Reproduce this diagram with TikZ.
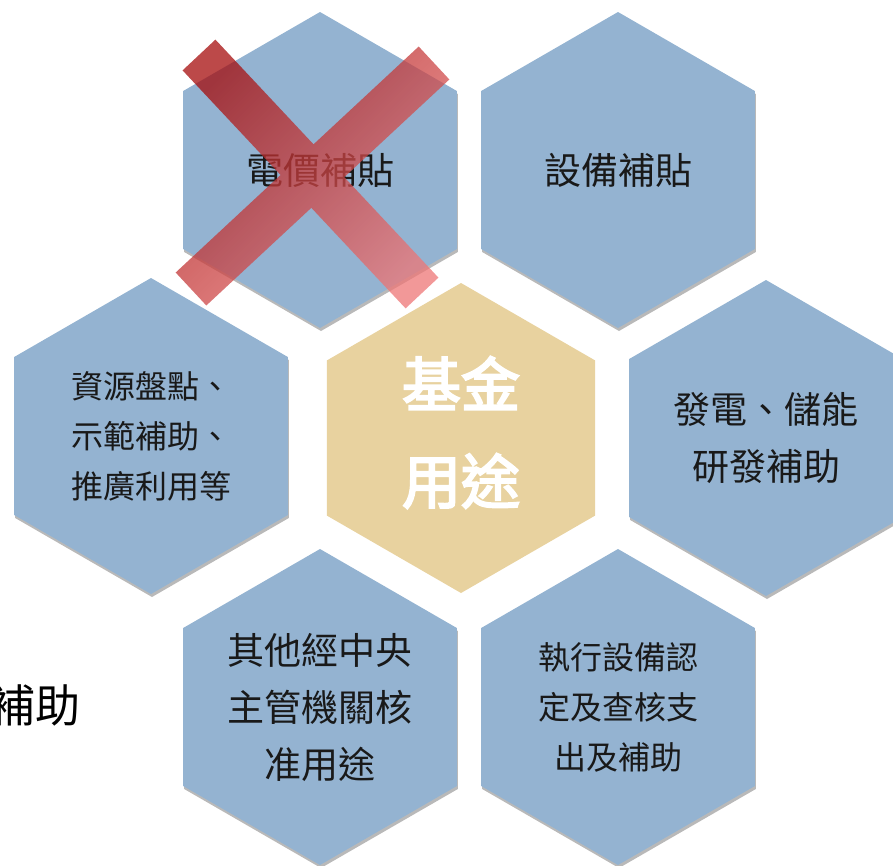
\documentclass[tikz,border=0pt]{standalone}
\usepackage{fontspec}
\setmainfont{Noto Sans CJK TC}
\newfontfamily\corefont[FakeBold=3.5]{Noto Sans CJK TC}
\usetikzlibrary{shapes.geometric,shadows,calc}
\definecolor{hexblue}{RGB}{148,179,209}
\definecolor{hexsand}{RGB}{232,210,159}
\definecolor{crossdark}{RGB}{165,12,12}
\definecolor{crosslight}{RGB}{238,118,118}

\begin{document}
\begin{tikzpicture}
        [x=1pt,y=-1pt,
         cell/.style={regular polygon,regular polygon sides=6,regular polygon rotate=30,minimum size=316pt,inner sep=0pt,fill=hexblue,align=center,text=black!90,drop shadow={shadow xshift=1pt,shadow yshift=-3pt,opacity=.55}},
         core/.style={regular polygon,regular polygon sides=6,regular polygon rotate=30,minimum size=310pt,inner sep=0pt,fill=hexsand,align=center,text=white,text depth=16pt,font=\corefont\fontsize{59}{97}\selectfont},
         big/.style={font=\fontsize{37}{57}\selectfont},
         small/.style={font=\fontsize{32}{50}\selectfont},
         cross/.style={top color=crossdark,bottom color=crosslight,shading angle=45,fill opacity=.75}]
        \useasboundingbox (0,0) rectangle (893,865);
        \clip (0,0) rectangle (893,865);
        \node[font=\fontsize{45}{45}\selectfont,inner sep=0pt,anchor=east] (rest) at (81,705) {補助};
        \node[cell,big] (tariff) at (320,170) {電價補貼};
        \node[cell,big] (device) at (618,170) {設備補貼};
        \node[cell,small] (survey) at (151,436) {資源盤點、\\示範補助、\\推廣利用等};
        \node[core] (fund) at (461,438) {基金\\用途};
        \node[cell,big] (storage) at (766,438) {發電、儲能\\研發補助};
        \node[cell,big] (other) at (320,707) {其他經中央\\主管機關核\\准用途};
        \node[cell,small] (audit) at (618,707) {執行設備認\\定及查核支\\出及補助};
        % the cross over tariff
        \coordinate (xa) at (199,55);
        \coordinate (xb) at (422,293);
        \coordinate (ya) at (434,63);
        \coordinate (yb) at (191,289);
        \path[cross] ($(xa)!22.5pt!90:(xb)$) -- ($(xb)!22.5pt!-90:(xa)$) -- ($(xb)!22.5pt!90:(xa)$) -- ($(xa)!22.5pt!-90:(xb)$) -- cycle
                     ($(ya)!22.5pt!90:(yb)$) -- ($(yb)!22.5pt!-90:(ya)$) -- ($(yb)!22.5pt!90:(ya)$) -- ($(ya)!22.5pt!-90:(yb)$) -- cycle;
      \end{tikzpicture}
\end{document}
